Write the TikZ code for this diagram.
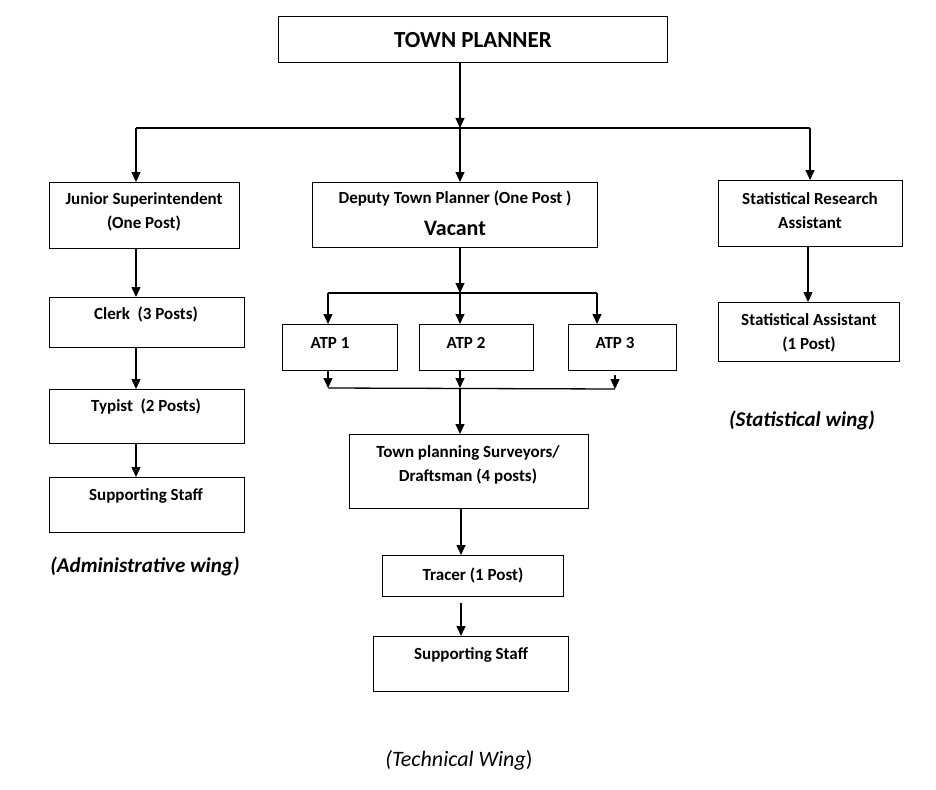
\documentclass[tikz,border=0pt]{standalone}
\usepackage{fontspec}
\setmainfont{Carlito}
\usetikzlibrary{arrows.meta}

\begin{document}
\begin{tikzpicture}[x=1pt, y=-1pt,
    box/.style={draw, line width=1.1pt, anchor=north west, inner sep=0pt},
    txt/.style={font=\bfseries\fontsize{17}{24}\selectfont, align=center, inner sep=0pt},
    wing/.style={font=\bfseries\itshape\fontsize{21}{24}\selectfont, inner sep=0pt},
    arr/.style={line width=1.3pt, -{Triangle[length=10pt, width=9pt]}},
    bar/.style={line width=1.3pt}]
    \useasboundingbox (0,0) rectangle (936,789);

    % Town planner
    \node[box, minimum width=389, minimum height=46] (tp) at (278,16) {};
    \node[txt, font=\bfseries\fontsize{23}{26}\selectfont] (tpt) at (473,40) {TOWN PLANNER};

    % Administrative wing
    \node[box, minimum width=190, minimum height=66] (js) at (49,182) {};
    \node[txt] (jst) at (144,212) {Junior Superintendent\\(One Post)};
    \node[box, minimum width=195, minimum height=50] (clerk) at (49,297) {};
    \node[txt] (clerkt) at (146,314) {Clerk\ \ (3 Posts)};
    \node[box, minimum width=195, minimum height=54] (typist) at (49,389) {};
    \node[txt] (typistt) at (146,407) {Typist\ \ (2 Posts)};
    \node[box, minimum width=195, minimum height=55] (ssa) at (49,477) {};
    \node[txt] (ssat) at (146,496) {Supporting Staff};
    \node[wing] (admin) at (145,566) {(Administrative wing)};

    % Technical wing
    \node[box, minimum width=285, minimum height=65] (dtp) at (312,182) {};
    \node[txt] (dtpt) at (455,199) {Deputy Town Planner (One Post )};
    \node[txt, font=\bfseries\fontsize{22}{24}\selectfont] (vac) at (455,228) {Vacant};
    \node[box, minimum width=115, minimum height=46] (atpa) at (282,324) {};
    \node[txt] (atpat) at (330,343) {ATP 1};
    \node[box, minimum width=114, minimum height=46] (atpb) at (419,324) {};
    \node[txt] (atpbt) at (466,343) {ATP 2};
    \node[box, minimum width=108, minimum height=46] (atpc) at (568,324) {};
    \node[txt] (atpct) at (615,343) {ATP 3};
    \node[box, minimum width=239, minimum height=74] (tps) at (349,434) {};
    \node[txt] (tpst) at (468,465) {Town planning Surveyors/\\Draftsman (4 posts)};
    \node[box, minimum width=181, minimum height=41] (tracer) at (382,555) {};
    \node[txt] (tracert) at (473,575) {Tracer (1 Post)};
    \node[box, minimum width=195, minimum height=55] (ssb) at (373,636) {};
    \node[txt] (ssbt) at (471,655) {Supporting Staff};
    \node[font=\itshape\fontsize{22}{24}\selectfont, inner sep=0pt] (tech) at (459,760) {(Technical Wing\upshape)};

    % Statistical wing
    \node[box, minimum width=184, minimum height=66] (sra) at (718,180) {};
    \node[txt] (srat) at (810,211) {Statistical Research\\Assistant};
    \node[box, minimum width=181, minimum height=59] (sa) at (718,302) {};
    \node[txt] (sat) at (809,333) {Statistical Assistant\\(1 Post)};
    \node[wing] (stat) at (802,420) {(Statistical wing)};

    % Junctions
    \coordinate (top) at (460,128);
    \coordinate (topl) at (136,128);
    \coordinate (topr) at (810,128);
    \coordinate (mid) at (460,293);
    \coordinate (midl) at (328,293);
    \coordinate (midr) at (597,293);
    \coordinate (low) at (460,388);
    \coordinate (lowl) at (328,388);
    \coordinate (lowr) at (615,389);

    % Connectors
    \draw[arr] (tp.south -| top) -- (top);
    \draw[bar] (topl) -- (topr);
    \draw[arr] (topl) -- (topl |- js.north);
    \draw[arr] (top) -- (top |- dtp.north);
    \draw[arr] (topr) -- (topr |- sra.north);
    \draw[arr] (js.south -| topl) -- (topl |- clerk.north);
    \draw[arr] (clerk.south -| topl) -- (topl |- typist.north);
    \draw[arr] (typist.south -| topl) -- (topl |- ssa.north);
    \draw[arr] (dtp.south -| mid) -- (mid);
    \draw[bar] (midl) -- (midr);
    \draw[arr] (midl) -- (midl |- atpa.north);
    \draw[arr] (mid) -- (mid |- atpb.north);
    \draw[arr] (midr) -- (midr |- atpc.north);
    \draw[arr] (atpa.south -| lowl) -- (lowl);
    \draw[arr] (atpb.south -| low) -- (low);
    \draw[arr] ([yshift=-4]atpc.south -| lowr) -- (lowr);
    \draw[bar] (lowl) -- (lowr);
    \draw[arr] (low) -- (low |- tps.north);
    \draw[arr] ([xshift=1]tps.south -| low) -- ([xshift=1]low |- tracer.north);
    \draw[arr] ([xshift=1,yshift=-6]tracer.south -| low) -- ([xshift=1]low |- ssb.north);
    \draw[arr] (sra.south -| 808,0) -- (808,302 |- sa.north);
\end{tikzpicture}
\end{document}
